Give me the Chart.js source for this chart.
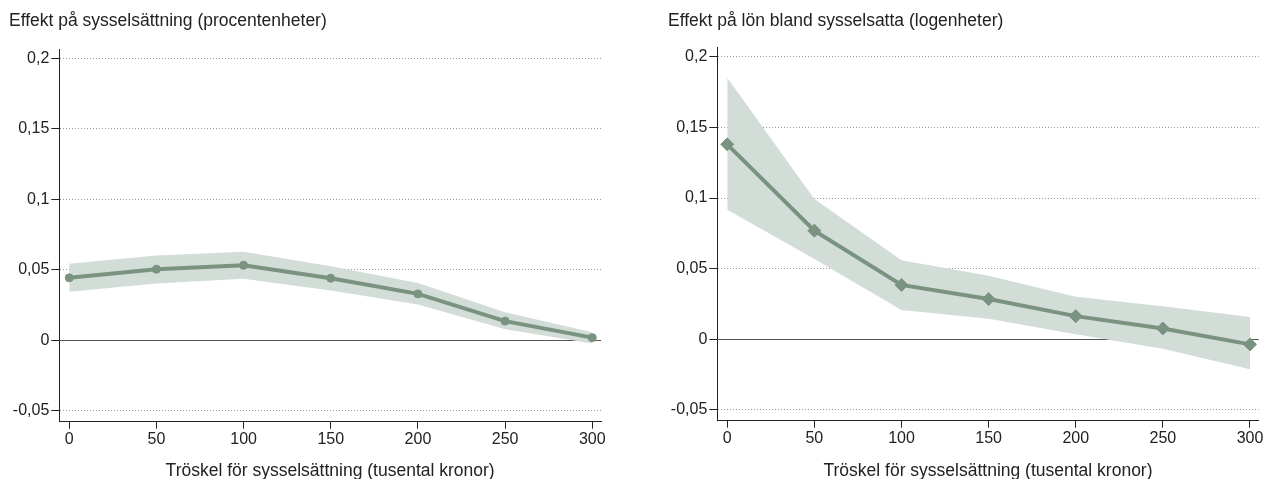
<!DOCTYPE html>
<html><head><meta charset="utf-8">
<script src="https://cdn.jsdelivr.net/npm/chart.js@4.4.1/dist/chart.umd.min.js"></script>
<style>
html,body{margin:0;padding:0;background:#fff;}
body{width:1268px;height:479px;position:relative;overflow:hidden;font-family:"Liberation Sans",Arial,sans-serif;}
.wrap{position:absolute;top:0;height:479px;}
.t{position:absolute;top:12px;font-size:17.5px;line-height:17.5px;color:#222;white-space:nowrap;}
</style></head><body>
<div class="wrap" style="left:0;width:620px"><canvas id="c1"></canvas></div>
<div class="wrap" style="left:640px;width:628px"><canvas id="c2"></canvas></div>
<div class="t" style="left:9px">Effekt på sysselsättning (procentenheter)</div>
<div class="t" style="left:668px">Effekt på lön bland sysselsatta (logenheter)</div>
<script>
const thresholds = [0, 50, 100, 150, 200, 250, 300];
const empEffect = [0.0444, 0.0505, 0.0533, 0.0441, 0.0330, 0.0137, 0.0020];
const empUpper  = [0.0543, 0.0602, 0.0628, 0.0526, 0.0408, 0.0200, 0.0059];
const empLower  = [0.0345, 0.0404, 0.0437, 0.0354, 0.0254, 0.0080, -0.0021];
const wageEffect = [0.1380, 0.0769, 0.0385, 0.0285, 0.0164, 0.0077, -0.0036];
const wageUpper  = [0.1852, 0.0993, 0.0559, 0.0450, 0.0302, 0.0234, 0.0158];
const wageLower  = [0.0917, 0.0569, 0.0207, 0.0146, 0.0035, -0.0066, -0.0212];
const yTickValues = [-0.05, 0, 0.05, 0.1, 0.15, 0.2];
const yTickLabels = ['-0,05', '0', '0,05', '0,1', '0,15', '0,2'];
const xTickValues = [0, 50, 100, 150, 200, 250, 300];
const xTickLabels = ['0', '50', '100', '150', '200', '250', '300'];
const xTitle = 'Tröskel för sysselsättning (tusental kronor)';

const LINE = '#7a9381';
const BAND = '#d2ddd8';
const INK = '#222';
const FONT = '"Liberation Sans", Arial, sans-serif';

const zeroLine = {
  id: 'zeroLine',
  beforeDatasetsDraw(chart) {
    const {ctx, chartArea: a, scales: {y}} = chart;
    const py = Math.round(y.getPixelForValue(0)) + 0.5;
    ctx.save();
    ctx.strokeStyle = '#555';
    ctx.lineWidth = 1.2;
    ctx.beginPath();
    ctx.moveTo(a.left, py);
    ctx.lineTo(a.right, py);
    ctx.stroke();
    ctx.restore();
  }
};

function pts(vals) { return thresholds.map((x, i) => ({x: x, y: vals[i]})); }

function makeChart(id, eff, up, lo, pStyle, pRad, lay) {
  new Chart(document.getElementById(id), {
    type: 'line',
    data: {
      datasets: [
        {order: 2, data: pts(up), borderWidth: 0, borderColor: 'rgba(0,0,0,0)', pointRadius: 0, fill: false, tension: 0},
        {order: 1, data: pts(lo), borderWidth: 0, borderColor: 'rgba(0,0,0,0)', pointRadius: 0, fill: '-1', backgroundColor: BAND, tension: 0},
        {order: 0, data: pts(eff), borderColor: LINE, borderWidth: 4, pointStyle: pStyle, pointRadius: pRad,
         pointBackgroundColor: LINE, pointBorderColor: LINE, pointBorderWidth: 1, fill: false, tension: 0, clip: false}
      ]
    },
    options: {
      responsive: true,
      maintainAspectRatio: false,
      animation: false,
      events: [],
      layout: {padding: {left: lay.left, right: lay.right, top: lay.top, bottom: 0}},
      plugins: {legend: {display: false}, tooltip: {enabled: false}, title: {display: false}},
      scales: {
        x: {
          type: 'linear', min: -5.7, max: 305,
          afterBuildTicks: s => { s.ticks = xTickValues.map(v => ({value: v})); },
          afterFit: s => { s.height = lay.xh; },
          grid: {drawOnChartArea: false, drawTicks: true, tickLength: 7, tickColor: INK, tickWidth: 1},
          border: {display: true, color: INK, width: 1},
          ticks: {autoSkip: false, maxRotation: 0, padding: 1, color: INK, font: {family: FONT, size: 16},
                  callback: v => xTickLabels[xTickValues.indexOf(v)]},
          title: {display: true, text: xTitle, color: INK, font: {family: FONT, size: 17.5, lineHeight: 0.85}, padding: {top: 0, bottom: 0}}
        },
        y: {
          type: 'linear', min: -0.0576, max: 0.2064,
          afterBuildTicks: s => { s.ticks = yTickValues.map(v => ({value: v})); },
          afterFit: s => { s.width = lay.yw; },
          grid: {color: c => (c.tick && c.tick.value === 0) ? 'rgba(0,0,0,0)' : '#9a9a9a', lineWidth: 1,
                 drawTicks: true, tickLength: 8, tickColor: INK, tickWidth: 1, tickBorderDash: []},
          border: {display: true, color: INK, width: 1, dash: [1, 2]},
          ticks: {autoSkip: false, padding: 2, color: INK, font: {family: FONT, size: 16},
                  callback: v => yTickLabels[yTickValues.indexOf(v)]}
        }
      }
    },
    plugins: [zeroLine]
  });
}

makeChart('c1', empEffect, empUpper, empLower, 'circle', 4, {left: 8, right: 19, top: 49.3, yw: 51.3, xh: 57.3});
makeChart('c2', wageEffect, wageUpper, wageLower, 'rectRot', 6.5, {left: 28, right: 9.3, top: 47.7, yw: 49.3, xh: 58.3});
</script>
</body></html>
